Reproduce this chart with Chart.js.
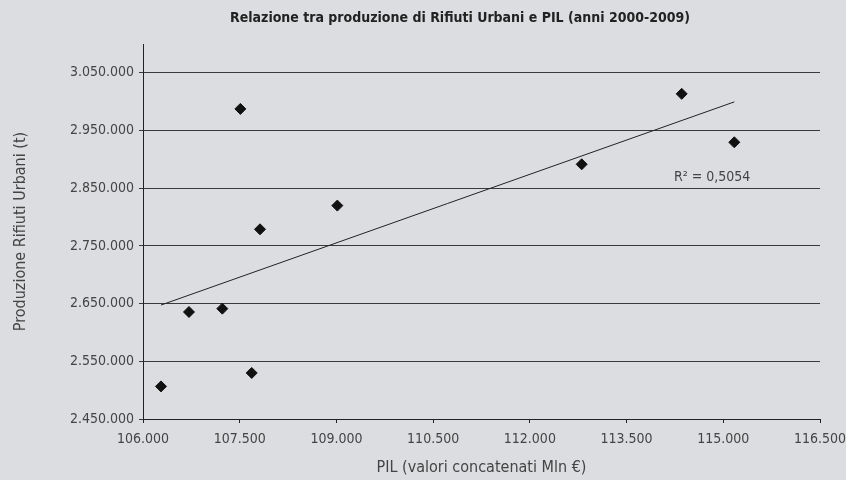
<!DOCTYPE html>
<html>
<head>
<meta charset="utf-8">
<script src="https://cdn.jsdelivr.net/npm/chart.js@4.4.1/dist/chart.umd.min.js"></script>
<style>
  html, body { margin: 0; padding: 0; background: #dcdde0; }
  #wrap { width: 846px; height: 480px; }
</style>
</head>
<body>
<div id="wrap"><canvas id="chart" width="846" height="480"></canvas></div>
<script>
// Dati (anni 2000-2009)
const pil = [106279, 106713, 107230, 107686, 107510, 107815, 109014, 112804, 114355, 115171];
const rifiuti = [2506500, 2635500, 2641300, 2529800, 2987500, 2778800, 2819900, 2891500, 3013600, 2929600];
const xTicks = [106000, 107500, 109000, 110500, 112000, 113500, 115000, 116500];
const yTicks = [2450000, 2550000, 2650000, 2750000, 2850000, 2950000, 3050000];
const titolo = 'Relazione tra produzione di Rifiuti Urbani e PIL (anni 2000-2009)';
const r2Label = 'R² = 0,5054';

const FONT = "'DejaVu Sans Condensed', 'Liberation Sans Narrow', sans-serif";

// separatore migliaia all'italiana
function fmt(v) {
    return String(v).replace(/\B(?=(\d{3})+(?!\d))/g, '.');
}

// retta di regressione (minimi quadrati)
function trend(xs, ys) {
    const n = xs.length;
    const mx = xs.reduce((a, b) => a + b, 0) / n;
    const my = ys.reduce((a, b) => a + b, 0) / n;
    let sxy = 0, sxx = 0;
    for (let i = 0; i < n; i++) {
        sxy += (xs[i] - mx) * (ys[i] - my);
        sxx += (xs[i] - mx) * (xs[i] - mx);
    }
    const b = sxy / sxx;
    const a = my - b * mx;
    const x0 = Math.min(...xs), x1 = Math.max(...xs);
    return [{ x: x0, y: a + b * x0 }, { x: x1, y: a + b * x1 }];
}

const points = pil.map((x, i) => ({ x: x, y: rifiuti[i] }));

// sfondo grigio + titolo
const bgPlugin = {
    id: 'bg',
    beforeDraw(chart) {
        const ctx = chart.ctx;
        ctx.save();
        ctx.fillStyle = '#dcdde0';
        ctx.fillRect(0, 0, chart.width, chart.height);
        ctx.font = 'bold 14px ' + FONT;
        ctx.fillStyle = '#222';
        ctx.textAlign = 'center';
        ctx.textBaseline = 'middle';
        ctx.fillText(titolo, 460, 18);
        ctx.restore();
    }
};

const r2Plugin = {
    id: 'r2',
    afterDatasetsDraw(chart) {
        const ctx = chart.ctx;
        const xs = chart.scales.x, ys = chart.scales.y;
        ctx.save();
        ctx.font = '14px ' + FONT;
        ctx.fillStyle = '#444';
        ctx.textAlign = 'left';
        ctx.textBaseline = 'middle';
        ctx.fillText(r2Label, xs.getPixelForValue(114235), ys.getPixelForValue(2868400));
        ctx.restore();
    }
};

new Chart(document.getElementById('chart'), {
    type: 'scatter',
    data: {
        datasets: [{
            data: points,
            pointStyle: 'rectRot',
            pointRadius: 5.5,
            pointHoverRadius: 5.5,
            backgroundColor: '#111',
            borderColor: '#111',
            borderWidth: 1
        }, {
            type: 'line',
            data: trend(pil, rifiuti),
            borderColor: '#222',
            borderWidth: 1,
            pointRadius: 0,
            fill: false
        }]
    },
    options: {
        responsive: false,
        animation: false,
        layout: { padding: { left: 0, right: 26, top: 44, bottom: 0 } },
        plugins: {
            legend: { display: false },
            tooltip: { enabled: false },
            title: { display: false }
        },
        scales: {
            x: {
                type: 'linear',
                min: 106000,
                max: 116500,
                afterBuildTicks: s => { s.ticks = xTicks.map(v => ({ value: v })); },
                afterFit: s => { s.height = 61; s.paddingRight = 0; s.paddingLeft = 0; },
                grid: { drawOnChartArea: false, drawTicks: true, tickLength: 4, color: '#222' },
                border: { color: '#222', width: 1 },
                ticks: {
                    color: '#444',
                    padding: 8,
                    maxRotation: 0,
                    font: { family: FONT, size: 14 },
                    callback: v => fmt(v)
                },
                title: {
                    display: true,
                    text: 'PIL (valori concatenati Mln €)',
                    color: '#444',
                    font: { family: FONT, size: 16 },
                    padding: { top: 0, bottom: 3 }
                }
            },
            y: {
                type: 'linear',
                min: 2450000,
                max: 3100000,
                afterBuildTicks: s => { s.ticks = yTicks.map(v => ({ value: v })); },
                afterFit: s => { s.width = 143; },
                grid: { color: '#3a3a3a', lineWidth: 1, drawTicks: true, tickLength: 4 },
                border: { color: '#222', width: 1 },
                ticks: {
                    color: '#444',
                    padding: 5,
                    font: { family: FONT, size: 14 },
                    callback: v => fmt(v)
                },
                title: {
                    display: true,
                    text: 'Produzione Rifiuti Urbani (t)',
                    color: '#444',
                    font: { family: FONT, size: 16 },
                    padding: { top: 11, bottom: 0 }
                }
            }
        }
    },
    plugins: [bgPlugin, r2Plugin]
});
</script>
</body>
</html>
